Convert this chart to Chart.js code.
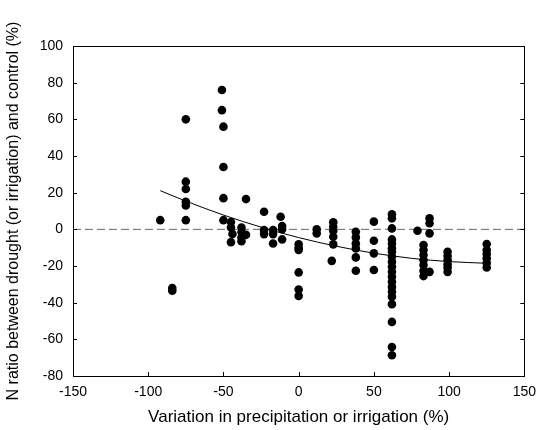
<!DOCTYPE html>
<html>
<head>
<meta charset="utf-8">
<title>N ratio vs precipitation</title>
<script src="https://cdn.jsdelivr.net/npm/chart.js@4.4.0/dist/chart.umd.min.js"></script>
<style>
    html, body { margin: 0; padding: 0; background: #fff; }
    #wrap { width: 544px; height: 430px; }
</style>
</head>
<body>
<div id="wrap"><canvas id="nRatioChart" width="544" height="430"></canvas></div>
<script>
// observations (x = variation %, y = N ratio %)
const pointX = [
    -92, -84, -84,
    -75, -75, -75, -75, -75, -75,
    -51, -51, -50, -50, -50, -50,
    -45, -45, -44, -45,
    -38, -38, -38, -38, -35, -35,
    -23, -23, -23,
    -17, -17, -17,
    -12, -11, -11, -11,
    0, 0, 0, 0, 0, 0,
    12, 12,
    23, 23, 23, 23, 23, 22,
    38, 38, 38, 38, 38, 38,
    50, 50, 50, 50,
    62, 62, 62, 62, 62, 62, 62, 62, 62, 62, 62, 62, 62, 62, 62, 62, 62, 62, 62, 62,
    79, 87, 87, 87, 87,
    83, 83, 83, 83, 83, 83, 83,
    99, 99, 99, 99, 99, 99,
    125, 125, 125, 125, 125, 125
];
const pointY = [
    5, -32, -33.5,
    60, 26, 22, 15, 13, 5,
    76, 65, 56, 34, 17, 5,
    4, 1, -2.5, -7,
    1, -1.5, -4.5, -6.5, -3, 16.5,
    9.6, -0.4, -2.6,
    -0.4, -2.6, -7.7,
    6.9, 1.8, 0, -5.5,
    -8.2, -10, -11.3, -23.5, -32.8, -36.3,
    0, -2.2,
    3.8, 1.4, -0.8, -4, -8.2, -17.2,
    -1.3, -4.4, -7.7, -10.4, -15.3, -22.6,
    4.2, -6.2, -13.1, -22.2,
    8.2, 6, 0.5, -5.5, -7.7, -10.4, -12.2, -15, -17.7, -20.4, -23.2, -25.9, -28.6, -31.4, -34.1, -36.8, -40.8, -50.5, -64.2, -68.7,
    -0.8, 6, 3.3, -2.2, -23.2,
    -8.6, -11.3, -14, -16.8, -19.5, -22.6, -25.5,
    -12.2, -14.6, -16.8, -19, -20.8, -23.2,
    -8, -11.3, -13.5, -15.8, -18.3, -20.8
];

// fitted curve as drawn in the figure
const trendX = [-92, -75, -50, -25, 0, 25, 50, 75, 100, 125];
const trendY = [21.1, 15.4, 7.8, 1.2, -4.5, -9.2, -13.0, -15.8, -17.6, -18.5];

// zero reference line
const zeroX = [-150, 150];
const zeroY = [0, 0];

const xTicks = [-150, -100, -50, 0, 50, 100, 150];
const yTicks = [-80, -60, -40, -20, 0, 20, 40, 60, 80, 100];

const FONT = 'Liberation Sans, Arial, Helvetica, sans-serif';

function toXY(xs, ys) {
    return xs.map((x, i) => ({ x: x, y: ys[i] }));
}

// box round the plot with inward ticks on left, right and bottom
const framePlugin = {
    id: 'frame',
    afterDatasetsDraw(chart) {
        const { ctx, chartArea: a, scales } = chart;
        const len = 4;
        ctx.save();
        ctx.strokeStyle = '#000';
        ctx.lineWidth = 1;
        ctx.strokeRect(Math.round(a.left) + 0.5, Math.round(a.top) + 0.5,
            Math.round(a.right - a.left), Math.round(a.bottom - a.top));
        ctx.beginPath();
        xTicks.forEach(v => {
            const px = Math.round(scales.x.getPixelForValue(v)) + 0.5;
            ctx.moveTo(px, a.bottom);
            ctx.lineTo(px, a.bottom - len);
        });
        yTicks.forEach(v => {
            const py = Math.round(scales.y.getPixelForValue(v)) + 0.5;
            ctx.moveTo(a.left, py);
            ctx.lineTo(a.left + len, py);
            ctx.moveTo(a.right, py);
            ctx.lineTo(a.right - len, py);
        });
        ctx.stroke();
        ctx.restore();
    }
};

const ctx = document.getElementById('nRatioChart').getContext('2d');
new Chart(ctx, {
    type: 'scatter',
    data: {
        datasets: [
            {
                label: 'observations',
                data: toXY(pointX, pointY),
                backgroundColor: '#000',
                borderWidth: 0,
                pointRadius: 4.3,
                order: 1
            },
            {
                label: 'fit',
                data: toXY(trendX, trendY),
                showLine: true,
                borderColor: '#000',
                borderWidth: 1,
                pointRadius: 0,
                cubicInterpolationMode: 'monotone',
                order: 2
            },
            {
                label: 'zero',
                data: toXY(zeroX, zeroY),
                showLine: true,
                borderColor: '#666',
                borderWidth: 1,
                borderDash: [8, 4],
                pointRadius: 0,
                order: 3
            }
        ]
    },
    options: {
        responsive: false,
        animation: false,
        layout: { padding: { top: 46, right: 13, left: 0, bottom: 0 } },
        plugins: {
            legend: { display: false },
            tooltip: { enabled: false }
        },
        scales: {
            x: {
                type: 'linear',
                min: -150,
                max: 150,
                afterFit: s => { s.height = 54; },
                grid: { display: false, drawTicks: false },
                border: { display: false },
                ticks: {
                    stepSize: 50,
                    padding: 8,
                    color: '#000',
                    font: { family: FONT, size: 14 }
                },
                title: {
                    display: true,
                    text: 'Variation in precipitation or irrigation (%)',
                    color: '#000',
                    font: { family: FONT, size: 17 },
                    padding: { top: 0, bottom: 2 }
                }
            },
            y: {
                type: 'linear',
                min: -80,
                max: 100,
                afterFit: s => { s.width = 73; },
                grid: { display: false, drawTicks: false },
                border: { display: false },
                ticks: {
                    stepSize: 20,
                    padding: 10,
                    color: '#000',
                    font: { family: FONT, size: 14 }
                },
                title: {
                    display: true,
                    text: 'N ratio between drought (or irrigation) and control (%)',
                    color: '#000',
                    font: { family: FONT, size: 16 },
                    padding: { top: 4, bottom: 4 }
                }
            }
        }
    },
    plugins: [framePlugin]
});
</script>
</body>
</html>
